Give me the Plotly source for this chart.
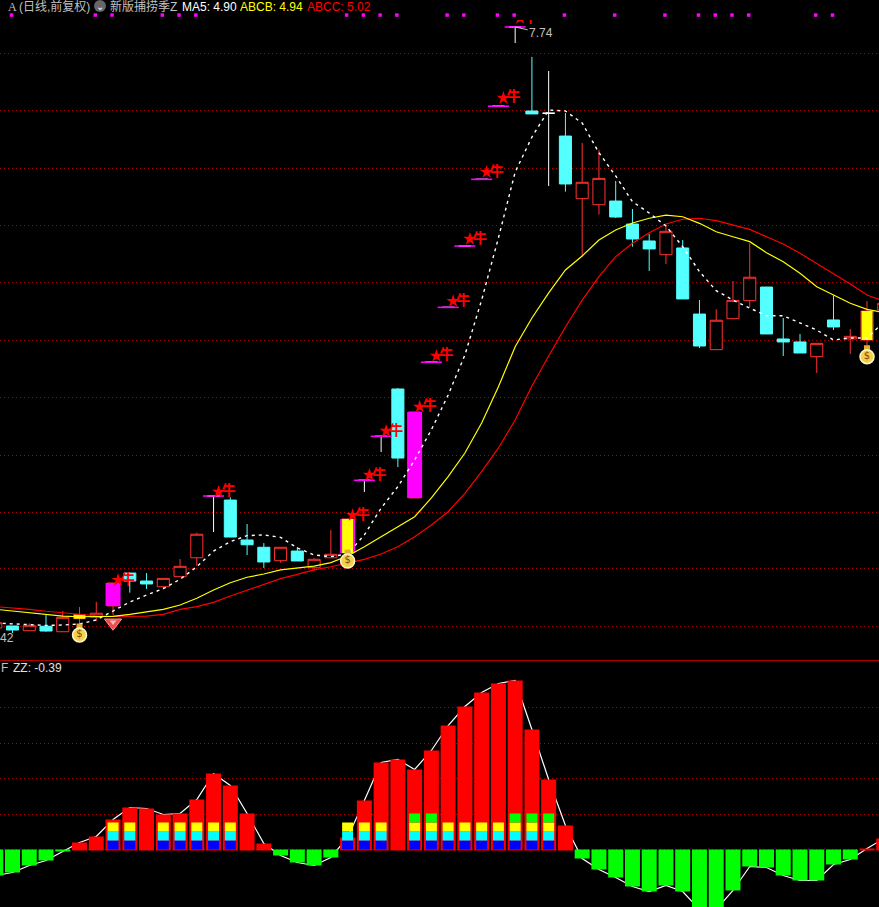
import plotly.graph_objects as go

# ---- price data (index 0 is the partly hidden bar at the left edge) ----
opens = [3.449,3.463,3.429,3.461,3.422,3.515,3.527,3.606,3.841,3.784,3.743,3.815,3.950,4.391,4.362,4.077,4.025,3.929,3.998,3.879,
         3.950,3.984,4.503,4.817,5.155,4.377,5.346,5.738,6.176,6.652,7.174,7.740,7.140,7.124,6.961,6.514,6.471,6.497,6.333,6.212,
         6.114,6.162,5.690,5.436,5.657,5.786,5.883,5.512,5.491,5.386,5.648,5.512,5.505,5.719]
highs = [3.486,3.463,3.482,3.541,3.570,3.598,3.636,3.770,3.841,3.841,3.803,3.941,4.129,4.391,4.382,4.191,4.055,4.025,4.027,3.948,
         4.148,4.227,4.503,4.817,5.162,4.991,5.346,5.738,6.176,6.652,7.174,7.740,7.526,7.426,7.126,6.911,6.861,6.640,6.440,6.262,
         6.328,6.219,5.790,5.724,5.926,6.195,5.883,5.662,5.548,5.481,5.824,5.583,5.783,5.767]
lows  = [3.449,3.413,3.429,3.422,3.422,3.470,3.501,3.541,3.701,3.727,3.729,3.815,3.893,4.134,4.098,3.970,3.877,3.915,3.927,3.858,
         3.950,3.977,4.420,4.705,4.598,4.377,5.346,5.738,6.176,6.652,7.174,7.625,7.119,6.604,6.564,6.100,6.400,6.376,6.171,5.998,
         6.048,5.798,5.448,5.436,5.657,5.738,5.548,5.391,5.412,5.269,5.576,5.405,5.453,5.719]
closes= [3.486,3.434,3.468,3.427,3.525,3.544,3.554,3.770,3.784,3.763,3.803,3.889,4.118,4.391,4.098,4.043,3.920,4.025,3.927,3.939,
         3.975,4.227,4.503,4.817,4.662,4.991,5.346,5.738,6.176,6.652,7.174,7.740,7.119,7.124,6.619,6.631,6.659,6.383,6.226,6.155,
         6.281,5.798,5.462,5.646,5.788,5.953,5.548,5.491,5.412,5.481,5.598,5.531,5.712,5.767]
ma5 = [3.484,3.477,3.470,3.467,3.470,3.477,3.506,3.570,3.634,3.684,3.729,3.796,3.886,3.998,4.065,4.108,4.113,4.096,4.020,3.970,
       3.958,3.977,4.113,4.305,4.458,4.648,4.864,5.112,5.398,5.791,6.233,6.704,6.954,7.147,7.140,7.054,6.842,6.676,6.492,6.412,
       6.319,6.171,5.993,5.857,5.790,5.733,5.678,5.678,5.626,5.576,5.505,5.519,5.519,5.633]
abcb = [3.582,3.570,3.558,3.546,3.534,3.529,3.529,3.532,3.546,3.565,3.582,3.613,3.661,3.720,3.772,3.811,3.834,3.863,3.879,3.891,
        3.915,3.963,4.029,4.100,4.172,4.243,4.377,4.529,4.698,4.912,5.171,5.457,5.662,5.841,6.005,6.105,6.219,6.290,6.340,6.374,
        6.397,6.385,6.338,6.278,6.242,6.207,6.128,6.064,5.981,5.885,5.826,5.767,5.724,5.701]
abcc = [3.601,3.594,3.582,3.568,3.558,3.546,3.536,3.532,3.532,3.534,3.546,3.582,3.601,3.632,3.677,3.720,3.763,3.801,3.832,3.863,
        3.886,3.915,3.939,3.977,4.029,4.100,4.184,4.279,4.410,4.565,4.734,4.934,5.176,5.391,5.598,5.790,5.957,6.100,6.195,6.271,
        6.333,6.367,6.374,6.357,6.328,6.295,6.242,6.190,6.124,6.052,5.981,5.905,5.826,5.783]
doji_days = [13,22,23,26,27,28,29,30,31,33]
limit_days = [13,22,23,26,27,28,29,30,31]
magenta_days = [7,21,25]
yellow_days = [5,21,52]
star_days  = [7,13,21,22,23,25,26,27,28,29,30,31]
star_price = [3.791,4.420,4.255,4.541,4.855,5.027,5.391,5.783,6.226,6.704,7.233,7.804]
dot_days = [1,6,7,10,11,12,21,22,23,24,27,28,30,31,34,37,40,42,43,44,45,49,50]
dot_price = 7.825
bag_days = [5,21,52]
bag_price = [3.399,3.927,5.386]
gem_day, gem_price = 7, 3.486

# ---- ZZ panel data ----
zz = [-2.6,-2.3,-1.6,-1.1,-0.2,0.7,1.3,3.0,4.2,4.1,3.5,3.6,5.0,7.6,6.4,3.6,0.6,-0.6,-1.3,-1.6,
      -0.8,1.2,4.9,8.7,9.0,8.0,9.9,12.4,14.3,15.7,16.6,16.9,12.0,7.0,2.4,-0.9,-2.0,-2.8,-3.7,-4.2,
      -3.6,-4.2,-6.0,-6.0,-4.1,-1.7,-1.8,-2.6,-3.1,-3.1,-1.5,-1.0,0.1,1.1]
stack_level = {7:3,8:3,10:3,11:3,12:3,13:3,14:3,21:3,22:3,23:3,25:4,26:4,27:3,28:3,29:3,30:3,31:4,32:4,33:4}
stack_step = 0.9
stack_colors = ["#0000ff","#00ffff","#ffff00","#00ff00"]
zz_grid = [0,3.52,7.13,10.58,14.18]
price_grid = [7.554,7.140,6.733,6.326,5.912,5.501,5.094,4.680,4.273,3.870,3.458]

# ---- page geometry ----
W, H = 879, 907
def px(x): return x / W
def py(y): return 1 - y / H
days = list(range(len(zz)))
RED, CYAN = "#ff3232", "#54ffff"
STEP = 16.755

fig = go.Figure()
normal = [i for i in days if i not in doji_days]
fig.add_trace(go.Candlestick(
    x=normal, open=[opens[i] for i in normal], high=[highs[i] for i in normal],
    low=[lows[i] for i in normal], close=[closes[i] for i in normal],
    increasing=dict(line=dict(color=RED, width=1), fillcolor="#000000"),
    decreasing=dict(line=dict(color=CYAN, width=1), fillcolor=CYAN)))
fig.add_trace(go.Candlestick(
    x=doji_days, open=[opens[i] for i in doji_days], high=[highs[i] for i in doji_days],
    low=[lows[i] for i in doji_days], close=[closes[i] for i in doji_days],
    increasing=dict(line=dict(color="#ffffff", width=1), fillcolor="#ffffff"),
    decreasing=dict(line=dict(color="#ffffff", width=1), fillcolor="#ffffff")))

def sticks(idx, color, width):
    xs, ys = [], []
    for i in idx:
        xs += [i, i, None]
        ys += [opens[i], closes[i], None]
    fig.add_trace(go.Scatter(x=xs, y=ys, mode="lines", line=dict(color=color, width=width)))
sticks(magenta_days, "#ff00ff", 15)
sticks(yellow_days, "#ffff00", 11)

fig.add_trace(go.Scatter(x=days, y=abcc, mode="lines", line=dict(color="#ff0000", width=1.2)))
fig.add_trace(go.Scatter(x=days, y=abcb, mode="lines", line=dict(color="#ffff00", width=1.2)))
fig.add_trace(go.Scatter(x=days, y=ma5, mode="lines", line=dict(color="#ffffff", width=1.4, dash="3px,4px")))

fig.add_trace(go.Scatter(x=limit_days, y=[closes[i] for i in limit_days], mode="markers",
                         marker=dict(symbol="line-ew", size=15, line=dict(color="#ff00ff", width=1.6))))
fig.add_trace(go.Scatter(x=[i + 0.3 for i in star_days], y=star_price, mode="markers",
                         marker=dict(symbol="star", size=10, color="#ff0000", line=dict(width=0))))
fig.add_trace(go.Scatter(x=[i + 0.9 for i in star_days], y=star_price, mode="text", text=["牛"] * len(star_days),
                         textposition="middle center",
                         textfont=dict(family="Noto Sans CJK SC", size=14, weight=700, color="#ff0000")))
# signal dots along the top edge, on their own thin axis
fig.add_trace(go.Scatter(x=[i - 0.06 for i in dot_days], y=[dot_price] * len(dot_days), yaxis="y4", mode="markers",
                         marker=dict(symbol="square", size=3.5, color="#ff00ff", line=dict(width=0))))
# money bags
fig.add_trace(go.Scatter(x=bag_days, y=[p + 0.06 for p in bag_price], mode="markers",
                         marker=dict(symbol="square", size=6, color="#e0b030", line=dict(width=0))))
fig.add_trace(go.Scatter(x=bag_days, y=bag_price, mode="markers+text", text=["$"] * 3, textposition="middle center",
                         textfont=dict(family="DejaVu Sans", size=10, color="#8a4a00"),
                         marker=dict(symbol="circle", size=14, color="#f2d050", line=dict(color="#fff6c8", width=1.5))))
# gem
fig.add_trace(go.Scatter(x=[gem_day], y=[gem_price], mode="markers",
                         marker=dict(symbol="triangle-down", size=15, color="#f04a50", line=dict(color="#ff9090", width=1))))
fig.add_trace(go.Scatter(x=[gem_day], y=[gem_price + 0.005], mode="markers",
                         marker=dict(symbol="triangle-down", size=6, color="#ffb8b8", line=dict(width=0))))

# ZZ panel: line on the base axis, bars on an overlay axis so they cover it
fig.add_trace(go.Scatter(x=days, y=zz, yaxis="y2", mode="lines", line=dict(color="#ffffff", width=1.2)))
pos = [i for i in days if zz[i] > 0]
neg = [i for i in days if zz[i] <= 0]
fig.add_trace(go.Bar(x=pos, y=[zz[i] + 0.1 for i in pos], base=-0.1, yaxis="y3", width=15 / STEP,
                     marker=dict(color="#ff0000", line=dict(width=0))))
fig.add_trace(go.Bar(x=neg, y=[zz[i] for i in neg], yaxis="y3", width=15 / STEP,
                     marker=dict(color="#00ff00", line=dict(width=0))))
for lvl, col in enumerate(stack_colors):
    idx = [i for i, n in stack_level.items() if n > lvl]
    fig.add_trace(go.Bar(x=idx, y=[stack_step] * len(idx), base=stack_step * lvl, yaxis="y3", width=11 / STEP,
                         marker=dict(color=col, line=dict(width=0))))

def label(x, y, text, color, size=12, family="Liberation Sans", anchor="left"):
    return dict(xref="paper", yref="paper", x=px(x), y=py(y), text=text, showarrow=False, xanchor=anchor, yanchor="middle",
                font=dict(family=family, size=size, color=color))

CJK = "Liberation Sans, Noto Sans CJK SC"
ann = [
    label(6, 7, "A", "#c0c0c0", 12, "Liberation Serif"),
    label(17, 7, "(日线,前复权)", "#c0c0c0", 12, CJK),
    label(100, 6, "⌄", "#ffffff", 10, "DejaVu Sans", "center"),
    label(108, 7, "新版捕捞季Z", "#c0c0c0", 12, CJK),
    label(180, 7, "MA5: 4.90", "#ffffff", 12),
    label(238, 7, "ABCB: 4.94", "#ffff00", 12),
    label(305, 7, "ABCC: 5.02", "#ff0000", 12),
    label(-1, 668, "F", "#c0c0c0", 12),
    label(11, 668, "ZZ: -0.39", "#e0e0e0", 12),
    label(16, 638, "42", "#c0c0c0", 12, anchor="right"),
    dict(xref="x", yref="y", x=31, y=7.74, ax=26, ay=6, text="7.74", showarrow=True, arrowhead=0, arrowwidth=1,
         arrowcolor="#c0c0c0", font=dict(family="Liberation Sans", size=12, color="#c0c0c0")),
]

fig.update_layout(
    width=W, height=H, margin=dict(l=0, r=0, t=0, b=0), showlegend=False, hovermode=False,
    paper_bgcolor="#000000", plot_bgcolor="#000000", barmode="overlay", boxgap=0.28, boxgroupgap=0,
    xaxis=dict(domain=[0, 1], range=[0.2537, 52.715], anchor="y", showgrid=False, zeroline=False,
               showticklabels=False, ticks="", rangeslider=dict(visible=False)),
    yaxis=dict(domain=[py(660), py(17)], range=[3.2201, 7.8111], showticklabels=False, ticks="", zeroline=False,
               tickmode="array", tickvals=price_grid, showgrid=True, gridcolor="#b00000", griddash="1px,3px", gridwidth=1),
    yaxis2=dict(domain=[0, py(660.5)], range=[-5.75, 18.9], anchor="x", showticklabels=False, ticks="", zeroline=False,
                tickmode="array", tickvals=zz_grid, showgrid=True, gridcolor="#b00000", griddash="1px,3px", gridwidth=1),
    yaxis3=dict(overlaying="y2", matches="y2", anchor="x", showticklabels=False, ticks="", zeroline=False, showgrid=False),
    yaxis4=dict(domain=[py(20), 1], range=[7.7897, 7.9325], anchor="x", showticklabels=False, ticks="", zeroline=False, showgrid=False),
    annotations=ann,
    shapes=[
        dict(type="line", xref="paper", yref="paper", x0=0, x1=1, y0=py(660.5), y1=py(660.5), line=dict(color="#b00000", width=1)),
        dict(type="circle", xref="paper", yref="paper", x0=px(94), x1=px(106), y0=py(12), y1=py(0), fillcolor="#666666", line=dict(width=0)),
    ],
)
fig.write_html("out.html", config=dict(displayModeBar=False),
               post_script="document.body.style.margin='0';document.body.style.background='#000';")
